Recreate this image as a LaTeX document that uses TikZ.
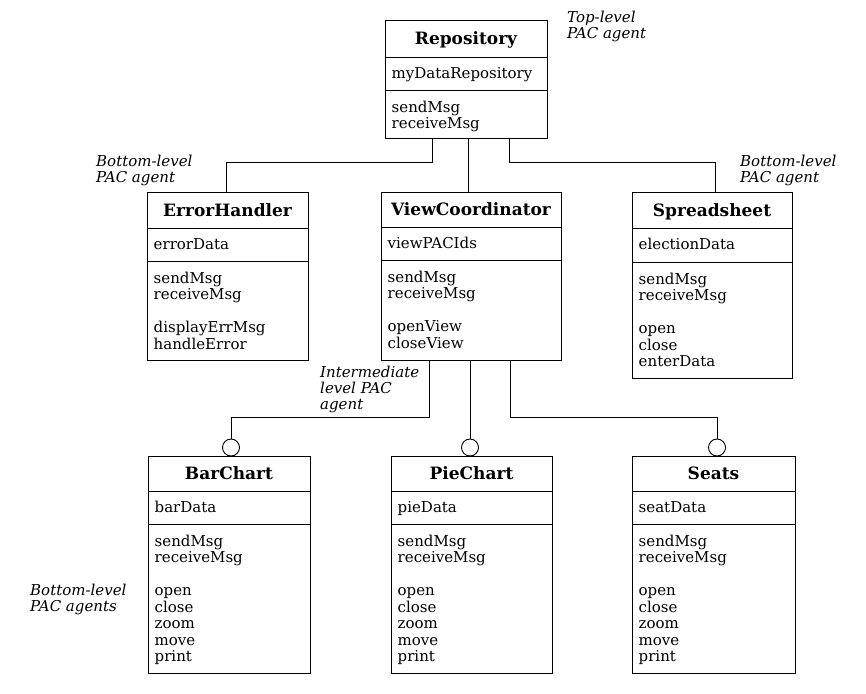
\documentclass[tikz,border=0pt]{standalone}
\usepackage{fontspec}
\setmainfont{DejaVu Serif}
\tikzset{
  boxframe/.style={draw, rectangle, line width=0.9pt, inner sep=0pt, outer sep=0pt},
  divline/.style={line width=0.9pt},
  conn/.style={line width=0.9pt},
  titletext/.style={font=\fontsize{17}{19}\selectfont\bfseries, inner sep=0pt, anchor=base},
  attrtext/.style={font=\fontsize{15}{16.5}\selectfont, inner sep=0pt, anchor=base west},
  methtext/.style={font=\fontsize{15}{16.5}\selectfont, inner sep=0pt, anchor=north west, align=left},
  labeltext/.style={font=\fontsize{15}{16}\selectfont\itshape, inner sep=0pt, anchor=north west, align=left},
  joint/.style={draw, circle, line width=0.9pt, minimum size=17pt, inner sep=0pt, outer sep=0pt, fill=white},
}
% #1 name, #2 x1, #3 y1, #4 x2, #5 y2, #6 header bottom, #7 attr bottom, #8 title, #9 attribute
\newcommand\pacbox[9]{%
  \node[boxframe, minimum width={(#4-#2)*1pt}, minimum height={(#5-#3)*1pt}, anchor=north west] (#1) at (#2,#3) {};
  \draw[divline] (#2,#6) -- (#4,#6);
  \draw[divline] (#2,#7) -- (#4,#7);
  \node[titletext] (#1-title) at ({(#2+#4)/2},{#6-12}) {#8};
  \node[attrtext] (#1-attr) at ({#2+6.5},{#6+21.5}) {#9};
}
\newcommand\pacmeth[4]{%
  \node[methtext] (#1-meth) at ({#2+6.5},{#3+10.5}) {\strut #4};
}
\begin{document}
\begin{tikzpicture}[x=1pt,y=-1pt]
\useasboundingbox (0,0) rectangle (866,693);

% boxes
\pacbox{rep}{385}{20}{547}{138}{57}{90}{Repository}{myDataRepository}
\pacmeth{rep}{385}{90}{sendMsg\\receiveMsg}

\pacbox{err}{147}{192}{308}{360}{228}{261}{ErrorHandler}{errorData}
\pacmeth{err}{147}{261}{sendMsg\\receiveMsg\\[16.5pt]displayErrMsg\\handleError}

\pacbox{vc}{381}{192}{561}{360}{227}{260}{ViewCoordinator}{viewPACIds}
\pacmeth{vc}{381}{260}{sendMsg\\receiveMsg\\[16.5pt]openView\\closeView}

\pacbox{spr}{632}{192}{792}{378}{228}{262}{Spreadsheet}{electionData}
\pacmeth{spr}{632}{262}{sendMsg\\receiveMsg\\[16.5pt]open\\close\\enterData}

\pacbox{bar}{148}{456}{310}{673}{491}{524}{BarChart}{barData}
\pacmeth{bar}{148}{524}{sendMsg\\receiveMsg\\[16.5pt]open\\close\\zoom\\move\\print}

\pacbox{pie}{391}{456}{552}{673}{491}{524}{PieChart}{pieData}
\pacmeth{pie}{391}{524}{sendMsg\\receiveMsg\\[16.5pt]open\\close\\zoom\\move\\print}

\pacbox{seats}{632}{456}{795}{673}{491}{524}{Seats}{seatData}
\pacmeth{seats}{632}{524}{sendMsg\\receiveMsg\\[16.5pt]open\\close\\zoom\\move\\print}

% joints
\node[joint] (barc) at (231,447.5) {};
\node[joint] (piec) at (470,447.5) {};
\node[joint] (seatc) at (717,447.5) {};

% connectors from Repository
\draw[conn] ([xshift=47pt]rep.south west) -- ++(0,24.5) -| ([xshift=79pt]err.north west);
\draw[conn] ([xshift=83pt]rep.south west) coordinate (r2) -- (r2 |- vc.north);
\draw[conn] ([xshift=124pt]rep.south west) -- ++(0,24.5) -| ([xshift=83pt]spr.north west);

% connectors from ViewCoordinator
\draw[conn] ([xshift=48pt]vc.south west) -- ++(0,57) -| (barc.north);
\draw[conn] (vc.south -| piec.north) -- (piec.north);
\draw[conn] ([xshift=129pt]vc.south west) -- ++(0,57) -| (seatc.north);

% labels
\node[labeltext] (toplab) at (567,10.8) {Top-level\\PAC agent};
\node[labeltext] (errlab) at (96,154.8) {Bottom-level\\PAC agent};
\node[labeltext] (sprlab) at (740,154.8) {Bottom-level\\PAC agent};
\node[labeltext] (midlab) at (320,365.8) {Intermediate\\level PAC\\agent};
\node[labeltext] (botlab) at (30,583.8) {Bottom-level\\PAC agents};
\end{tikzpicture}
\end{document}
